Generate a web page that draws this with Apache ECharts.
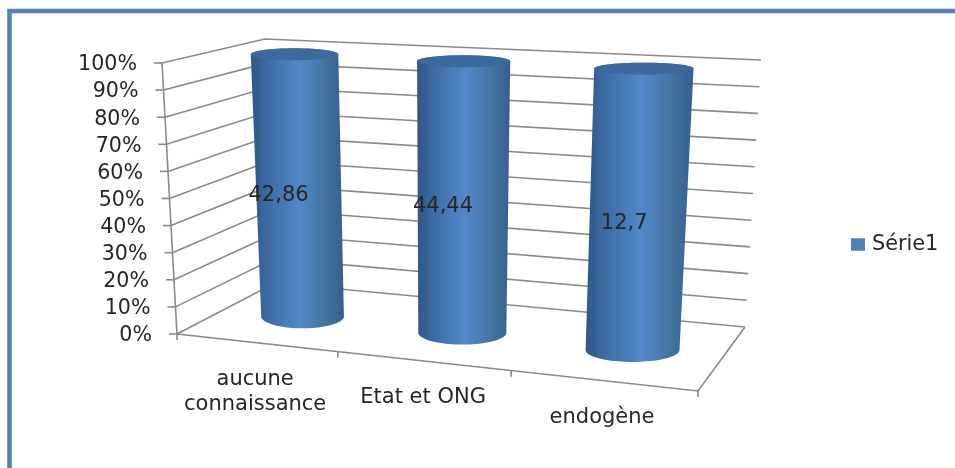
<!DOCTYPE html>
<html><head><meta charset="utf-8">
<style>html,body{margin:0;padding:0;background:#fff}#c{width:955px;height:468px}</style>
<script src="https://cdn.jsdelivr.net/npm/echarts@6/dist/echarts.min.js"></script>
</head><body><div id="c"></div>
<script>
const categories = ['aucune\nconnaissance', 'Etat et ONG', 'endogène'];
const seriesName = 'Série1';
const values = [42.86, 44.44, 12.7];
const valueLabels = ['42,86', '44,44', '12,7'];
const yTicks = [0, 10, 20, 30, 40, 50, 60, 70, 80, 90, 100];

// Layout of the 3D box (perspective frame, not data)
const FLOOR = { fl: [177, 334], fr: [698, 391], br: [745, 327], bl: [275, 283] };
const CEIL  = { fl: [162, 63],  fr: [715, 85],  br: [761, 60],  bl: [265, 39] };
const FORESHORTEN = 1.1, BAR_DEPTH = 0.5, BAR_WIDTH = 0.178;
const labelShift = [[-20, 10], [-20, 10], [-14, 14]];
const FONT = '"DejaVu Sans"', TEXT = '#262626', GRID = '#8a8a8a', BLUE = '#4f81bd';

const lerp = (a, b, k) => [a[0] + (b[0] - a[0]) * k, a[1] + (b[1] - a[1]) * k];
const warp = u => u / (u + FORESHORTEN * (1 - u));
function project(u, v, t) {
  const q = w => lerp(lerp(w.fl, w.fr, u), lerp(w.bl, w.br, u), v);
  return lerp(q(FLOOR), q(CEIL), t);
}
const uOf = (cs, px) => (px - cs.x) / cs.width;
const tOf = (cs, py) => (cs.y + cs.height - py) / cs.height;

function renderFrame(params, api) {
  const cs = params.coordSys;
  const v = api.value(1);
  const t = tOf(cs, api.coord([0, v])[1]);
  const a = project(0, 0, t), b = project(0, 1, t), c = project(1, 1, t);
  const line = { stroke: GRID, lineWidth: 1.6, fill: null };
  const kids = [
    { type: 'polyline', shape: { points: [a, b, c] }, style: line },
    { type: 'line', shape: { x1: a[0] - 8, y1: a[1], x2: a[0], y2: a[1] }, style: line },
    { type: 'text', style: { text: v + '%', x: a[0] - 25, y: a[1] + 2, align: 'right', verticalAlign: 'middle',
        fontFamily: FONT, fontSize: 20.6, fill: TEXT } }
  ];
  if (params.dataIndex === 0) {
    const fr = project(1, 0, 0), br = project(1, 1, 0), top = project(0, 0, 1);
    kids.push({ type: 'polyline', shape: { points: [top, a, fr, br] }, style: line });
    for (let i = 0; i <= categories.length; i++) {
      const p = project(warp(i / categories.length), 0, 0);
      const x = (i > 0 && i < categories.length) ? p[0] - 2 : p[0];
      kids.push({ type: 'line', shape: { x1: x, y1: p[1], x2: x, y2: p[1] + 6 }, style: line });
    }
  }
  return { type: 'group', children: kids };
}

function ellipsePts(c, rx, ry, from, to, n) {
  const pts = [];
  for (let i = 0; i <= n; i++) {
    const a = from + (to - from) * i / n;
    pts.push([c[0] + rx * Math.cos(a), c[1] + ry * Math.sin(a)]);
  }
  return pts;
}

function renderBar(params, api) {
  const cs = params.coordSys;
  const i = api.value(0), val = api.value(1);
  const px = api.coord([i, 0])[0];
  const u = uOf(cs, px);
  const pct = val / val * 100;            // 100 % stacked: one series fills its category
  const t1 = tOf(cs, api.coord([i, pct])[1]), t0 = tOf(cs, api.coord([i, 0])[1]);
  const half = BAR_WIDTH / 2;
  const l0 = project(warp(u - half), BAR_DEPTH, t0), r0 = project(warp(u + half), BAR_DEPTH, t0);
  const l1 = project(warp(u - half), BAR_DEPTH, t1), r1 = project(warp(u + half), BAR_DEPTH, t1);
  const c0 = lerp(l0, r0, .5), c1 = lerp(l1, r1, .5);
  const rx0 = (r0[0] - l0[0]) / 2, rx1 = (r1[0] - l1[0]) / 2;
  const body = ellipsePts(c0, rx0, 12, 0, Math.PI, 40).concat(ellipsePts(c1, rx1, 6, Math.PI, 2 * Math.PI, 40));
  const grad = new echarts.graphic.LinearGradient(0, 0, 1, 0, [
    { offset: 0, color: '#2f5686' }, { offset: 0.2, color: '#3f6ea6' },
    { offset: 0.52, color: '#5088c9' }, { offset: 0.8, color: '#45749f' }, { offset: 1, color: '#345e8e' }
  ]);
  const mid = lerp(c0, c1, .5);
  const sh = labelShift[i];
  const f = project(warp(u), 0, 0);
  return { type: 'group', children: [
    { type: 'polygon', shape: { points: body }, style: { fill: grad } },
    { type: 'polygon', shape: { points: ellipsePts(c1, rx1, 6, 0, 2 * Math.PI, 60) }, style: { fill: '#3d6a9d' } },
    { type: 'text', z2: 10, style: { text: valueLabels[i], x: mid[0] + sh[0], y: mid[1] + sh[1], align: 'center', verticalAlign: 'middle',
        fontFamily: FONT, fontSize: 21, fill: TEXT } },
    { type: 'text', style: { text: categories[i], x: f[0] - 2, y: f[1] + 24, align: 'center', verticalAlign: 'top',
        fontFamily: FONT, fontSize: 21, lineHeight: 25, fill: TEXT } }
  ] };
}

const chart = echarts.init(document.getElementById('c'), null, { renderer: 'canvas' });
chart.setOption({
  animation: false,
  backgroundColor: '#fff',
  graphic: [{ type: 'polyline', silent: true, shape: { points: [[9.5, 468], [9.5, 11], [955, 11]] },
    style: { stroke: BLUE, lineWidth: 4.5, fill: null } }],
  grid: { left: 177, top: 63, width: 521, height: 270 },
  xAxis: { type: 'category', data: categories, show: false },
  yAxis: { type: 'value', min: 0, max: 100, interval: 10, show: false },
  legend: { left: 846, top: 229, itemWidth: 14, itemHeight: 12.5, icon: 'rect', selectedMode: false,
    data: [{ name: seriesName, itemStyle: { color: BLUE } }],
    textStyle: { fontFamily: FONT, fontSize: 20.8, color: TEXT, padding: [0, 0, 0, 2] } },
  series: [
    { type: 'custom', name: 'axes', silent: true, z: 1, clip: false, renderItem: renderFrame,
      encode: { x: 0, y: 1 }, data: yTicks.map(v => [0, v]) },
    { type: 'custom', name: seriesName, z: 2, clip: false, renderItem: renderBar, itemStyle: { color: BLUE },
      encode: { x: 0, y: 1 }, data: values.map((v, i) => [i, v]) }
  ]
});
</script></body></html>
